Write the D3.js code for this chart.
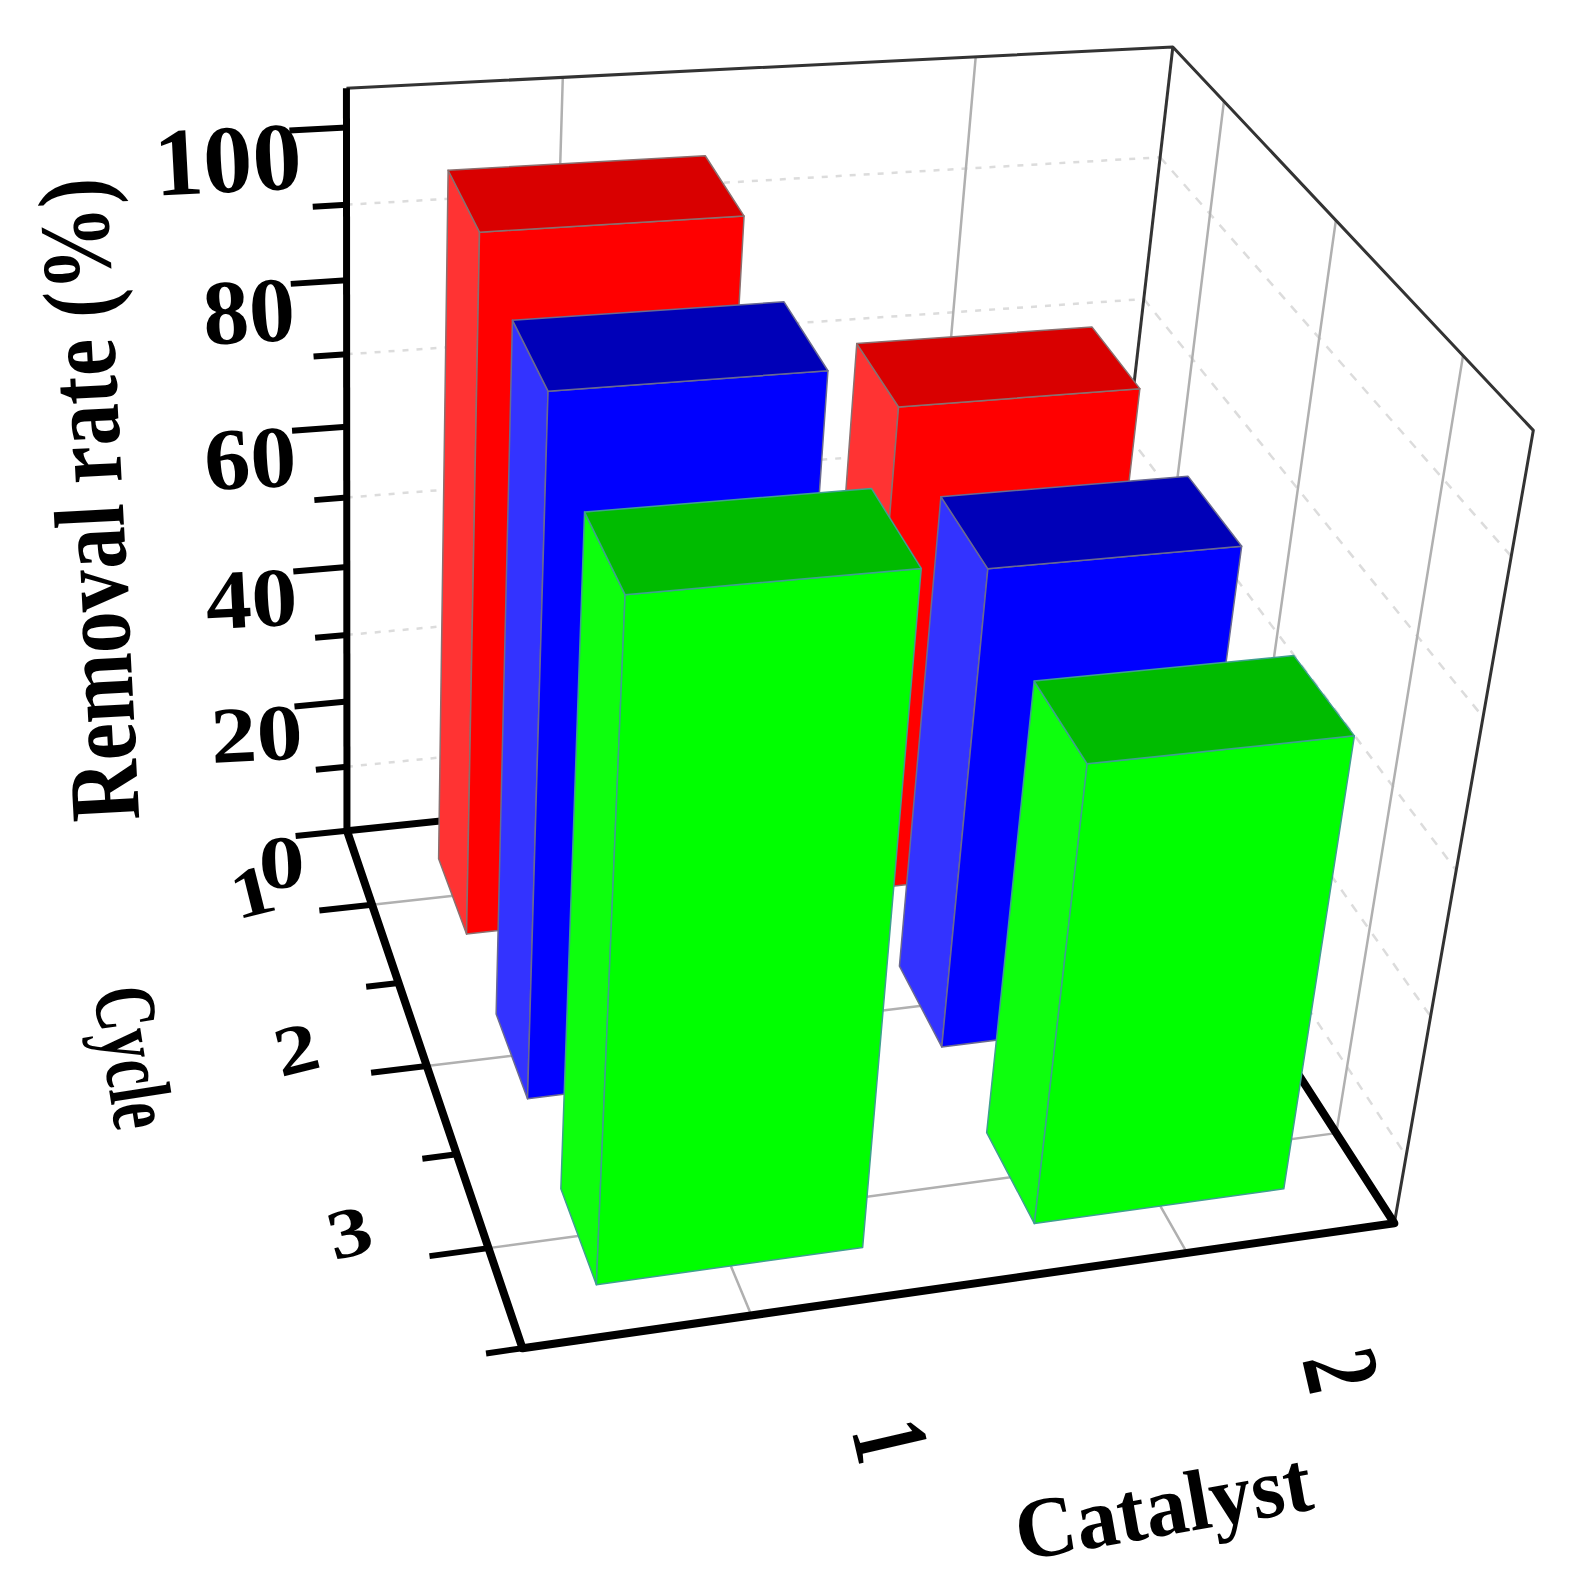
<!DOCTYPE html>
<html>
<head>
<meta charset="utf-8">
<script src="https://cdn.jsdelivr.net/npm/d3@7"></script>
<style>
  html, body { margin: 0; padding: 0; background: #fff; }
  text { font-family: "Liberation Serif", serif; font-weight: bold; fill: #000; }
</style>
</head>
<body>
<svg id="chart"></svg>
<script>
// chart values
const catalysts = [1, 2];
const cycles = [1, 2, 3];
const cycle1 = [97.7, 71];
const cycle2 = [95, 68];
const cycle3 = [89.7, 63.4];
const zMajor = [0, 20, 40, 60, 80, 100];
const zMinor = [10, 30, 50, 70, 90];
const cycleMinor = [1.5, 2.5, 3.5];
const seriesNames = ["cycle1", "cycle2", "cycle3"];
const seriesValues = [cycle1, cycle2, cycle3];

// colours per cycle
const frontColors = ["#ff0000", "#0000ff", "#00ff00"];
const leftColors = ["#ff3333", "#3333ff", "#0dff0d"];
const topColors = ["#d90000", "#0000b8", "#00bb00"];
const edgeColors = ["#8a7070", "#6a6a90", "#3f9f90"];

const width = 1572;
const height = 1588;
const barWidth = 0.6;    // in catalyst units
const barDepth = 0.5;    // in cycle units

const xScale = d3.scaleLinear().domain([0.5, 2.5]).range([0, 1]);
const yScale = d3.scaleLinear().domain([0.5, 3.5]).range([0, 1]);
const zScale = d3.scaleLinear().domain([0, 105]).range([0, 1]);

// where corners of the unit box land on the page, used to fit the camera
const calibration = [
  [0, 0, 0, 347, 830],
  [1, 0, 0, 1091, 754],
  [0, 1, 0, 521, 1348],
  [1, 1, 0, 1396, 1222],
  [0, 0, 1, 347, 86],
  [1, 0, 1, 1172, 46],
  [1, 1, 1, 1533, 432],
  [0, 0, zScale(50), 347, 500],
  [0, 0, zScale(100), 347, 128]
];

// least squares fit of a 3x4 projection matrix
function fitCamera(pts) {
  const A = [], b = [];
  pts.forEach(([X, Y, Z, u, v]) => {
    A.push([X, Y, Z, 1, 0, 0, 0, 0, -u * X, -u * Y, -u * Z]); b.push(u);
    A.push([0, 0, 0, 0, X, Y, Z, 1, -v * X, -v * Y, -v * Z]); b.push(v);
  });
  const n = 11;
  const M = d3.range(n).map(i => d3.range(n + 1).map(j =>
    j < n ? d3.sum(A, r => r[i] * r[j]) : d3.sum(A, (r, k) => r[i] * b[k])));
  for (let i = 0; i < n; i++) {
    let p = i;
    for (let k = i + 1; k < n; k++) if (Math.abs(M[k][i]) > Math.abs(M[p][i])) p = k;
    [M[i], M[p]] = [M[p], M[i]];
    for (let k = 0; k < n; k++) {
      if (k === i) continue;
      const f = M[k][i] / M[i][i];
      for (let j = i; j <= n; j++) M[k][j] -= f * M[i][j];
    }
  }
  return M.map((r, i) => r[n] / r[i]);
}
const cam = fitCamera(calibration);

// catalyst, cycle, rate -> page position
function project(c, y, z) {
  const X = xScale(c), Y = yScale(y), Z = zScale(z);
  const w = cam[8] * X + cam[9] * Y + cam[10] * Z + 1;
  return [
    (cam[0] * X + cam[1] * Y + cam[2] * Z + cam[3]) / w,
    (cam[4] * X + cam[5] * Y + cam[6] * Z + cam[7]) / w
  ];
}

const svg = d3.select("#chart").attr("width", width).attr("height", height);
const line = d3.line();
const xMin = 0.5, xMax = 2.5, yMin = 0.5, yMax = 3.5, zMax = 105;

function drawLines(data, stroke, strokeWidth, dash) {
  svg.append("g").selectAll("path").data(data).join("path")
    .attr("d", d => line(d.map(p => project(p[0], p[1], p[2]))))
    .attr("fill", "none")
    .attr("stroke", stroke)
    .attr("stroke-width", strokeWidth)
    .attr("stroke-linejoin", "round")
    .attr("stroke-dasharray", dash || null);
}

// dashed wall lines
drawLines(zMinor.map(z => [[xMin, yMin, z], [xMax, yMin, z]]), "#dcdcdc", 2.5, "6 8");
drawLines(zMinor.map(z => [[xMax, yMin, z], [xMax, yMax, z]]), "#dcdcdc", 2.5, "9 9");

// solid grid on walls and floor
drawLines(catalysts.map(c => [[c, yMin, zMax], [c, yMin, 0], [c, yMax, 0]]), "#b0b0b0", 2.5);
drawLines(cycles.map(y => [[xMax, y, zMax], [xMax, y, 0], [xMin, y, 0]]), "#b0b0b0", 2.5);

// thin box edges
drawLines([
  [[xMin, yMin, zMax], [xMax, yMin, zMax], [xMax, yMax, zMax], [xMax, yMax, 0]],
  [[xMax, yMin, zMax], [xMax, yMin, 0]]
], "#333", 3);

// thick axes
drawLines([
  [[xMin, yMin, zMax], [xMin, yMin, 0]],
  [[xMin, yMin, 0], [xMax, yMin, 0]]
], "#000", 7);
drawLines([
  [[xMin, yMin, 0], [xMin, yMax, 0], [xMax, yMax, 0], [xMax, yMin, 0]]
], "#000", 8);

// rate axis ticks
const zTickEnd = z => xMin - 0.13 * (zMajor.includes(z) ? 1 : 0.6);
drawLines(zMajor.concat(zMinor).map(z => [[xMin, yMin, z], [zTickEnd(z), yMin, z]]), "#000", 6);

// cycle axis ticks
const cycleTickEnd = y => xMin - 0.13 * (cycles.includes(y) ? 1 : 0.6);
drawLines(cycles.concat(cycleMinor).map(y => [[xMin, y, 0], [cycleTickEnd(y), y, 0]]), "#000", 6);

// bars, back row first
const bars = cycles.flatMap((y, i) => catalysts.map((c, j) => ({
  c, y, v: seriesValues[i][j], i, name: seriesNames[i]
})));

const barGroups = svg.append("g").selectAll("g").data(bars).join("g");

function face(sel, colors, pointsOf) {
  sel.append("path")
    .attr("d", d => line(pointsOf(d).map(p => project(p[0], p[1], p[2]))) + "Z")
    .attr("fill", d => colors[d.i])
    .attr("stroke", d => edgeColors[d.i])
    .attr("stroke-width", 1.5)
    .attr("stroke-linejoin", "round");
}
const x0 = d => d.c - barWidth / 2, x1 = d => d.c + barWidth / 2;
const y0 = d => d.y - barDepth / 2, y1 = d => d.y + barDepth / 2;

face(barGroups, leftColors, d => [[x0(d), y0(d), 0], [x0(d), y1(d), 0], [x0(d), y1(d), d.v], [x0(d), y0(d), d.v]]);
face(barGroups, frontColors, d => [[x0(d), y1(d), 0], [x1(d), y1(d), 0], [x1(d), y1(d), d.v], [x0(d), y1(d), d.v]]);
face(barGroups, topColors, d => [[x0(d), y0(d), d.v], [x1(d), y0(d), d.v], [x1(d), y1(d), d.v], [x0(d), y1(d), d.v]]);

// text helper: centred at pos, turned and stretched
function label(sel, size, pos, rotate, sx, sy) {
  sel.attr("font-size", size)
    .attr("text-anchor", "middle")
    .attr("dominant-baseline", "central")
    .attr("transform", d => {
      const p = pos(d);
      return `translate(${p[0]},${p[1]}) rotate(${rotate}) scale(${sx},${sy})`;
    });
}

// rate labels
const zLabelStretch = d3.scaleLinear().domain([0, 100]).range([0.82, 1.05]);
svg.append("g").selectAll("text").data(zMajor).join("text")
  .text(d => d)
  .attr("font-size", 92)
  .attr("text-anchor", "end")
  .attr("dominant-baseline", "central")
  .attr("transform", d => {
    const p = project(zTickEnd(d), yMin, d);
    const dx = d === 100 ? 12 : d === 0 ? 9 : d === 20 ? 8 : 4;
    const sx = d === 100 ? 1.07 : 1;
    return `translate(${p[0] + dx},${p[1] + 25}) rotate(-3) scale(${sx},${zLabelStretch(d)})`;
  });

// cycle labels
svg.append("g").selectAll("text").data(cycles).join("text")
  .text(d => d)
  .call(label, 70, d => {
    const p = project(cycleTickEnd(d), d, 0);
    return [p[0] - 75 + (d === 1 ? 8 : d === 3 ? -5 : 0), p[1] - 24 + (d === 1 ? 5 : 0)];
  }, -14, 1.25, 1);

// catalyst labels
svg.append("g").selectAll("text").data(catalysts).join("text")
  .text(d => d)
  .call(label, 108, d => {
    const p = project(d, yMax, 0);
    return [p[0] + 125 + 15 * d, p[1] + 133 - 8 * d];
  }, 77, 0.72, 1);

// axis titles
svg.append("text").text("Removal rate (%)")
  .call(label, 100, () => [89, 500], -93, 0.84, 1);
svg.append("text").text("Cycle")
  .call(label, 88, () => [134, 1057], 81, 0.68, 1);
svg.append("text").text("Catalyst")
  .call(label, 86, () => [1163, 1506], -10, 0.98, 1);
</script>
</body>
</html>
